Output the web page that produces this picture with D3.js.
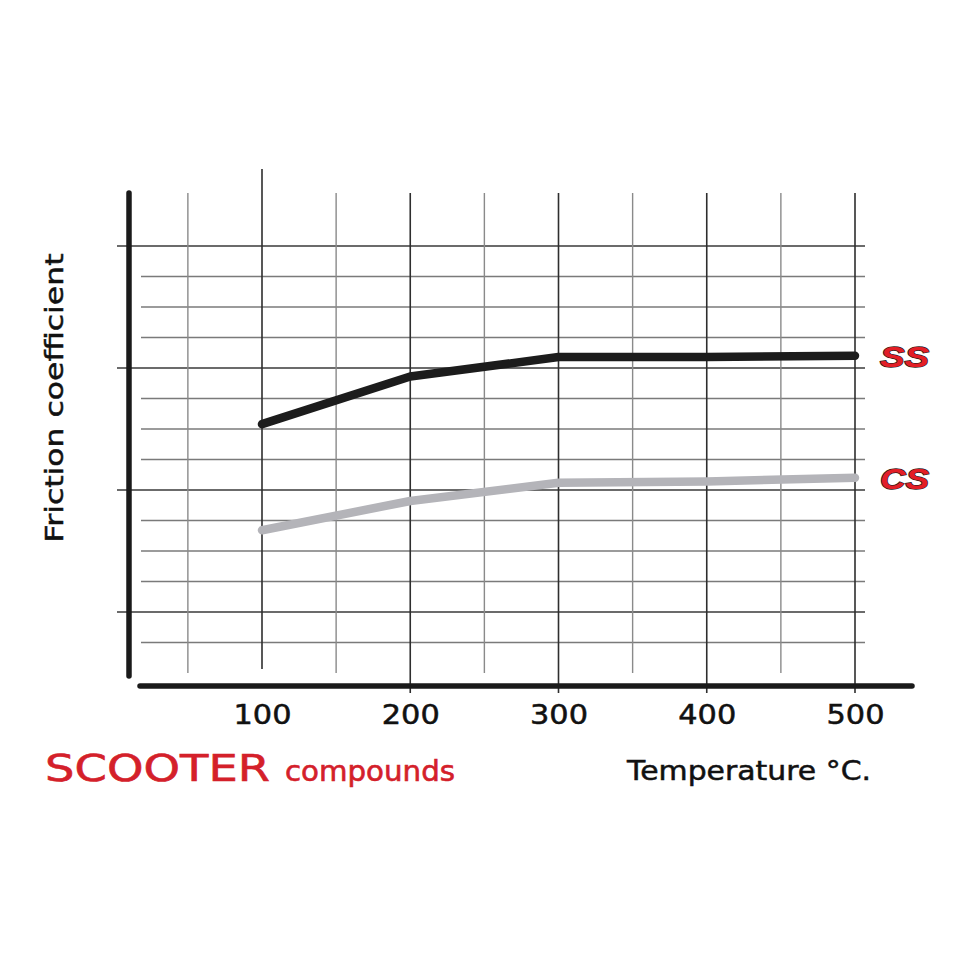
<!DOCTYPE html>
<html>
<head>
<meta charset="utf-8">
<script src="https://cdn.jsdelivr.net/npm/d3@7"></script>
<style>
  html, body { margin: 0; padding: 0; background: #fff; }
  svg { display: block; }
  .tick text { font-family: "DejaVu Sans", sans-serif; }
</style>
</head>
<body>
<div id="chart"></div>
<script>
// temperatures (°C) and friction coefficient readings
const temps = [100, 200, 300, 400, 500];
const ssValues = [0.354, 0.393, 0.409, 0.409, 0.410];
const csValues = [0.267, 0.291, 0.306, 0.307, 0.310];
const seriesNames = ["SS", "CS"];

// grid
const xMajor = [100, 200, 300, 400, 500];
const xMinor = [50, 150, 250, 350, 450];
const yMajor = [0.2, 0.3, 0.4, 0.5];
const yMinor = [0.175, 0.225, 0.25, 0.275, 0.325, 0.35, 0.375, 0.425, 0.45, 0.475];

const width = 960, height = 960;
const svg = d3.select("#chart").append("svg").attr("width", width).attr("height", height);

const x = d3.scaleLinear().domain([100, 500]).range([262, 855]);
const y = d3.scaleLinear().domain([0.2, 0.5]).range([612, 246]);

const grid = svg.append("g").attr("class", "grid");

// horizontal lines
grid.selectAll(".hminor").data(yMinor).enter().append("line")
    .attr("x1", 141).attr("x2", 865)
    .attr("y1", d => y(d)).attr("y2", d => y(d))
    .attr("stroke", "#7a7a7a").attr("stroke-width", 1.4);
grid.selectAll(".hmajor").data(yMajor).enter().append("line")
    .attr("x1", 117).attr("x2", 865)
    .attr("y1", d => y(d)).attr("y2", d => y(d))
    .attr("stroke", "#3a3a3a").attr("stroke-width", 1.6);

// vertical lines
grid.selectAll(".vminor").data(xMinor).enter().append("line")
    .attr("x1", d => x(d)).attr("x2", d => x(d))
    .attr("y1", 193).attr("y2", 673)
    .attr("stroke", "#8a8a8a").attr("stroke-width", 1.4);
grid.selectAll(".vmajor").data(xMajor).enter().append("line")
    .attr("x1", d => x(d)).attr("x2", d => x(d))
    .attr("y1", d => d === 100 ? 169 : 193)
    .attr("y2", d => d === 100 ? 669 : 693)
    .attr("stroke", "#2e2e2e").attr("stroke-width", 1.6);

// axes (thick bars)
svg.append("line").attr("x1", 129).attr("x2", 129).attr("y1", 193).attr("y2", 676)
    .attr("stroke", "#1a1a1a").attr("stroke-width", 5.5).attr("stroke-linecap", "round");
svg.append("line").attr("x1", 140).attr("x2", 912).attr("y1", 686).attr("y2", 686)
    .attr("stroke", "#1a1a1a").attr("stroke-width", 5.5).attr("stroke-linecap", "round");

// tick labels
const xAxis = svg.append("g")
    .attr("transform", "translate(0,706)")
    .call(d3.axisBottom(x).tickValues(xMajor).tickSize(0).tickPadding(0).tickFormat(d3.format("d")));
xAxis.select(".domain").remove();
xAxis.selectAll("text")
    .attr("dy", "0.71em")
    .attr("font-size", 26)
    .attr("fill", "#111")
    .attr("stroke", "#111")
    .attr("stroke-width", 0.5)
    .attr("textLength", 58)
    .attr("lengthAdjust", "spacingAndGlyphs");

// series
const line = d3.line().x(d => x(d.t)).y(d => y(d.v));
const series = [
  {name: seriesNames[0], color: "#1c1c1c", values: temps.map((t, i) => ({t, v: ssValues[i]}))},
  {name: seriesNames[1], color: "#b4b4b9", values: temps.map((t, i) => ({t, v: csValues[i]}))}
];
// draw CS first so SS sits on top
svg.selectAll(".series").data(series.slice().reverse()).enter().append("path")
    .attr("d", d => line(d.values))
    .attr("fill", "none")
    .attr("stroke", d => d.color)
    .attr("stroke-width", 8.5)
    .attr("stroke-linecap", "round")
    .attr("stroke-linejoin", "round");

// series labels
svg.selectAll(".slabel").data(series).enter().append("text")
    .attr("x", 880)
    .attr("y", d => y(d.values[d.values.length - 1].v) + 11)
    .attr("font-family", "Liberation Sans, sans-serif")
    .attr("font-weight", "bold")
    .attr("font-style", "italic")
    .attr("font-size", 29)
    .attr("textLength", 49)
    .attr("lengthAdjust", "spacingAndGlyphs")
    .attr("fill", "#e31e26")
    .attr("stroke", "#2a1a1a")
    .attr("stroke-width", 1.4)
    .attr("paint-order", "stroke")
    .text(d => d.name);

// axis titles
svg.append("text")
    .attr("transform", "translate(63,398) rotate(-90)")
    .attr("text-anchor", "middle")
    .attr("font-family", "DejaVu Sans, sans-serif")
    .attr("font-size", 25)
    .attr("textLength", 289)
    .attr("lengthAdjust", "spacingAndGlyphs")
    .attr("fill", "#111")
    .attr("stroke", "#111")
    .attr("stroke-width", 0.5)
    .text("Friction coefficient");

svg.append("text")
    .attr("x", 627).attr("y", 780)
    .attr("font-family", "DejaVu Sans, sans-serif")
    .attr("font-size", 26)
    .attr("textLength", 244)
    .attr("lengthAdjust", "spacingAndGlyphs")
    .attr("fill", "#111")
    .attr("stroke", "#111")
    .attr("stroke-width", 0.5)
    .text("Temperature °C.");

// title
const title = svg.append("text").attr("y", 781).attr("font-family", "DejaVu Sans, sans-serif")
    .attr("fill", "#d4202a").attr("stroke", "#d4202a").attr("stroke-width", 0.6);
title.append("tspan").attr("x", 45).attr("font-size", 38)
    .attr("textLength", 225).attr("lengthAdjust", "spacingAndGlyphs").text("SCOOTER");
title.append("tspan").attr("x", 285).attr("font-size", 28)
    .attr("textLength", 170).attr("lengthAdjust", "spacingAndGlyphs").text("compounds");
</script>
</body>
</html>
